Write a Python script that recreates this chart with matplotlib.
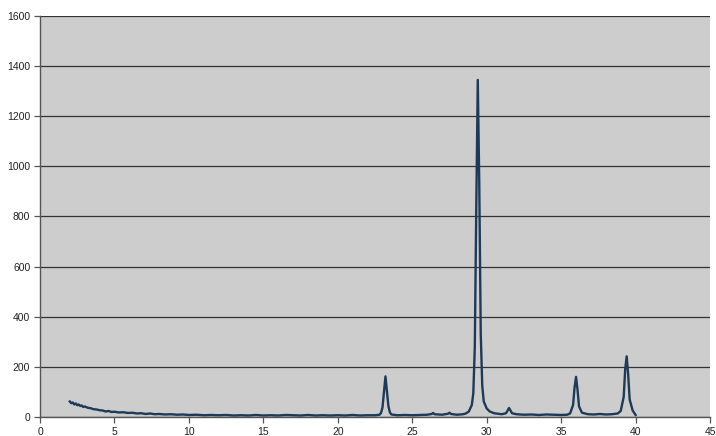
import matplotlib
matplotlib.use("Agg")
import matplotlib.pyplot as plt

# 2-theta (deg) and intensity
two_theta = [
    2.0, 2.1, 2.2, 2.3, 2.4, 2.5, 2.6, 2.7, 2.8, 2.9, 3.0, 3.2, 3.4, 3.6, 3.8,
    4.0, 4.2, 4.4, 4.6, 4.8, 5.0, 5.3, 5.6, 5.9, 6.2, 6.5, 6.8, 7.1, 7.4, 7.7,
    8.0, 8.4, 8.8, 9.2, 9.6, 10.0, 10.5, 11.0, 11.5, 12.0, 12.5, 13.0, 13.5,
    14.0, 14.5, 15.0, 15.5, 16.0, 16.5, 17.0, 17.5, 18.0, 18.5, 19.0, 19.5,
    20.0, 20.5, 21.0, 21.5, 22.0, 22.5, 22.8, 22.9, 23.0, 23.1, 23.2, 23.3,
    23.4, 23.5, 23.6, 24.0, 24.5, 25.0, 25.5, 26.0, 26.3, 26.4, 26.5, 27.0,
    27.4, 27.5, 27.6, 28.0, 28.4, 28.6, 28.8, 29.0, 29.1, 29.2, 29.3, 29.4,
    29.5, 29.6, 29.7, 29.8, 30.0, 30.2, 30.5, 31.0, 31.3, 31.5, 31.7, 32.0,
    32.5, 33.0, 33.5, 34.0, 34.5, 35.0, 35.4, 35.6, 35.8, 35.9, 36.0, 36.1,
    36.2, 36.4, 36.8, 37.2, 37.6, 38.0, 38.4, 38.8, 39.0, 39.2, 39.3, 39.4,
    39.5, 39.6, 39.8, 40.0,
]
intensity = [
    62, 55, 58, 50, 54, 47, 50, 44, 46, 40, 42, 37, 35, 31, 30,
    27, 26, 22, 24, 20, 21, 18, 19, 16, 17, 14, 15, 12, 14, 11,
    12, 10, 11, 9, 10, 8, 9, 7, 8, 7, 8, 6, 7,
    6, 8, 6, 7, 6, 8, 7, 6, 8, 6, 7, 6,
    7, 6, 8, 6, 7, 7, 9, 16, 38, 100, 162, 104,
    42, 18, 10, 7, 8, 7, 8, 9, 12, 16, 11, 9,
    13, 17, 12, 9, 11, 14, 22, 48, 95, 280, 840, 1345,
    930, 330, 125, 62, 34, 22, 15, 11, 15, 36, 15, 11,
    9, 10, 8, 10, 9, 8, 9, 14, 48, 118, 160, 108,
    42, 17, 11, 10, 12, 10, 11, 14, 24, 80, 190, 242,
    170, 70, 26, 8,
]

x_ticks = [0, 5, 10, 15, 20, 25, 30, 35, 40, 45]
y_ticks = [0, 200, 400, 600, 800, 1000, 1200, 1400, 1600]

plt.rcParams["font.family"] = ["Liberation Sans", "DejaVu Sans"]

fig = plt.figure(figsize=(7.16, 4.36), dpi=100)
ax = fig.add_axes([0.0559, 0.0436, 0.9358, 0.9197])
ax.set_facecolor("#cdcdcd")

ax.plot(two_theta, intensity, color="#1d3a58", linewidth=1.7, zorder=3)

ax.set_xlim(0, 45)
ax.set_ylim(0, 1600)
ax.set_xticks(x_ticks)
ax.set_yticks(y_ticks)
ax.yaxis.grid(True, color="#333333", linewidth=0.9)
ax.set_axisbelow(True)

for side in ("top", "right"):
    ax.spines[side].set_visible(False)
for side in ("left", "bottom"):
    ax.spines[side].set_color("#555555")
    ax.spines[side].set_linewidth(1.0)

ax.tick_params(axis="both", direction="out", length=4, width=0.9,
               color="#555555", labelsize=7.5, labelcolor="#222222", pad=3)

fig.savefig("out.png", dpi=100, facecolor="white")
